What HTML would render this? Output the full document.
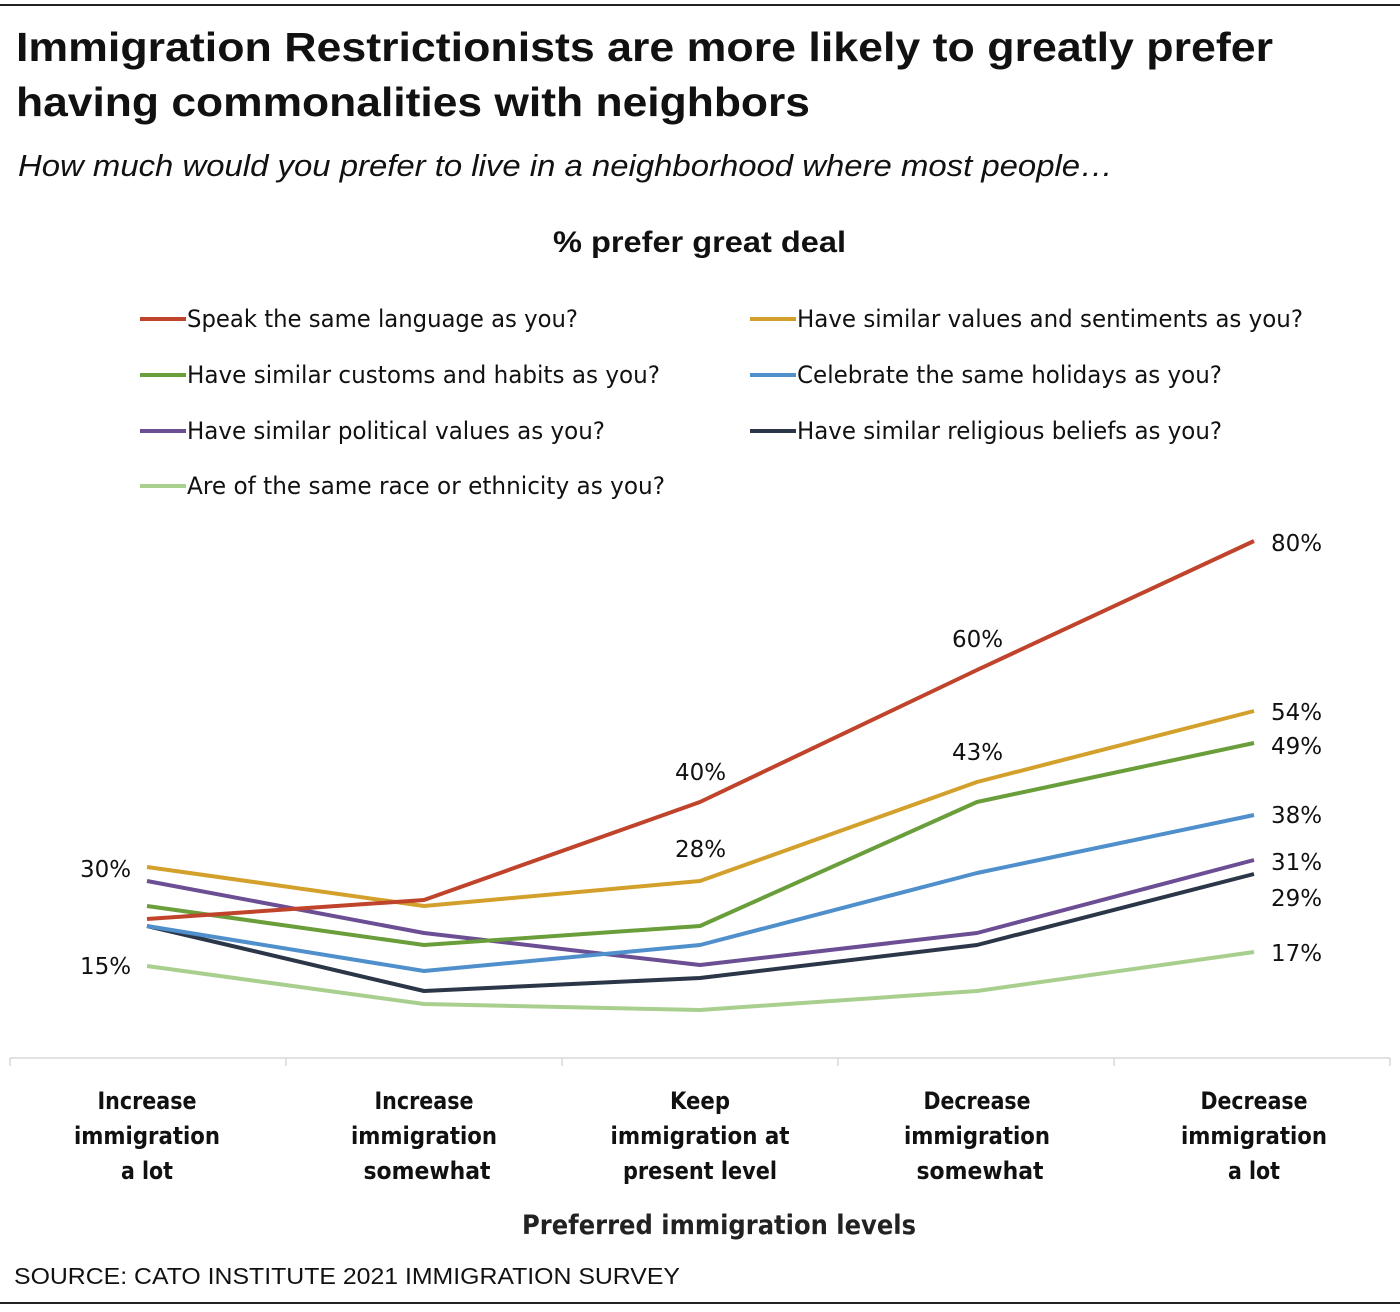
<!DOCTYPE html>
<html><head><meta charset="utf-8"><style>
body{margin:0;background:#fff;}
svg{display:block}
</style></head><body>
<svg width="1400" height="1312" xmlns="http://www.w3.org/2000/svg" font-family="Liberation Sans, sans-serif">
<rect width="1400" height="1312" fill="#fff"/>
<line x1="0" y1="5" x2="1400" y2="5" stroke="#222" stroke-width="2"/>
<line x1="0" y1="1303" x2="1400" y2="1303" stroke="#222" stroke-width="2"/>
<text x="16" y="61" font-size="41" font-weight="bold" fill="#111" textLength="1257" lengthAdjust="spacingAndGlyphs">Immigration Restrictionists are more likely to greatly prefer</text>
<text x="16" y="116" font-size="41" font-weight="bold" fill="#111" textLength="794" lengthAdjust="spacingAndGlyphs">having commonalities with neighbors</text>
<text x="18" y="176" font-size="31" font-style="italic" fill="#111" textLength="1095" lengthAdjust="spacingAndGlyphs">How much would you prefer to live in a neighborhood where most people…</text>
<text x="553" y="252" font-size="30" font-weight="bold" fill="#111" textLength="293" lengthAdjust="spacingAndGlyphs">% prefer great deal</text>
<g font-family="DejaVu Sans, sans-serif" font-size="24" fill="#111" stroke-width="4" lengthAdjust="spacingAndGlyphs">
<line x1="140" y1="319" x2="186" y2="319" stroke="#c0432b"/><text x="187" y="327" textLength="391" lengthAdjust="spacingAndGlyphs">Speak the same language as you?</text>
<line x1="750" y1="319" x2="796" y2="319" stroke="#d4a02c"/><text x="797" y="327" textLength="506" lengthAdjust="spacingAndGlyphs">Have similar values and sentiments as you?</text>
<line x1="140" y1="375" x2="186" y2="375" stroke="#6a9e3a"/><text x="187" y="383" textLength="473" lengthAdjust="spacingAndGlyphs">Have similar customs and habits as you?</text>
<line x1="750" y1="375" x2="796" y2="375" stroke="#4f8fcb"/><text x="797" y="383" textLength="425" lengthAdjust="spacingAndGlyphs">Celebrate the same holidays as you?</text>
<line x1="140" y1="431" x2="186" y2="431" stroke="#6b4e93"/><text x="187" y="439" textLength="418" lengthAdjust="spacingAndGlyphs">Have similar political values as you?</text>
<line x1="750" y1="431" x2="796" y2="431" stroke="#2b3648"/><text x="797" y="439" textLength="425" lengthAdjust="spacingAndGlyphs">Have similar religious beliefs as you?</text>
<line x1="140" y1="486" x2="186" y2="486" stroke="#a9cf8f"/><text x="187" y="494" textLength="478" lengthAdjust="spacingAndGlyphs">Are of the same race or ethnicity as you?</text>
</g>
<line x1="10" y1="1058" x2="1390" y2="1058" stroke="#d9d9d9" stroke-width="1.5"/>
<g stroke="#d9d9d9" stroke-width="1.5"><line x1="10" y1="1058" x2="10" y2="1066"/><line x1="286" y1="1058" x2="286" y2="1066"/><line x1="562" y1="1058" x2="562" y2="1066"/><line x1="838" y1="1058" x2="838" y2="1066"/><line x1="1114" y1="1058" x2="1114" y2="1066"/><line x1="1390" y1="1058" x2="1390" y2="1066"/></g>
<g fill="none" stroke-width="4" stroke-linejoin="round">
<polyline stroke="#a9cf8f" points="147,966 424,1004 700,1010 977,991 1254,952"/>
<polyline stroke="#2b3648" points="147,926 424,991 700,978 977,945 1254,874"/>
<polyline stroke="#6b4e93" points="147,881 424,933 700,965 977,933 1254,860"/>
<polyline stroke="#4f8fcb" points="147,926 424,971 700,945 977,873 1254,815"/>
<polyline stroke="#6a9e3a" points="147,906 424,945 700,926 977,802 1254,743"/>
<polyline stroke="#d4a02c" points="147,867 424,906 700,881 977,782 1254,711"/>
<polyline stroke="#c0432b" points="147,919 424,900 700,802 977,670 1254,541"/>
</g>
<g font-family="DejaVu Sans, sans-serif" font-size="23" fill="#111">
<text x="1271" y="551">80%</text><text x="952" y="647">60%</text>
<text x="675" y="780">40%</text><text x="952" y="760">43%</text>
<text x="675" y="857">28%</text><text x="80" y="877">30%</text><text x="80" y="974">15%</text>
<text x="1271" y="720">54%</text><text x="1271" y="754">49%</text><text x="1271" y="823">38%</text>
<text x="1271" y="870">31%</text><text x="1271" y="906">29%</text><text x="1271" y="961">17%</text>
</g>
<g font-family="DejaVu Sans, sans-serif" font-size="24" font-weight="bold" fill="#111" text-anchor="middle">
<text x="147" y="1109" textLength="99" lengthAdjust="spacingAndGlyphs">Increase</text><text x="147" y="1144" textLength="146" lengthAdjust="spacingAndGlyphs">immigration</text><text x="147" y="1179" textLength="52" lengthAdjust="spacingAndGlyphs">a lot</text>
<text x="424" y="1109" textLength="99" lengthAdjust="spacingAndGlyphs">Increase</text><text x="424" y="1144" textLength="146" lengthAdjust="spacingAndGlyphs">immigration</text><text x="427" y="1179" textLength="127" lengthAdjust="spacingAndGlyphs">somewhat</text>
<text x="700" y="1109" textLength="60" lengthAdjust="spacingAndGlyphs">Keep</text><text x="700" y="1144" textLength="179" lengthAdjust="spacingAndGlyphs">immigration at</text><text x="700" y="1179" textLength="154" lengthAdjust="spacingAndGlyphs">present level</text>
<text x="977" y="1109" textLength="107" lengthAdjust="spacingAndGlyphs">Decrease</text><text x="977" y="1144" textLength="146" lengthAdjust="spacingAndGlyphs">immigration</text><text x="980" y="1179" textLength="127" lengthAdjust="spacingAndGlyphs">somewhat</text>
<text x="1254" y="1109" textLength="107" lengthAdjust="spacingAndGlyphs">Decrease</text><text x="1254" y="1144" textLength="146" lengthAdjust="spacingAndGlyphs">immigration</text><text x="1254" y="1179" textLength="52" lengthAdjust="spacingAndGlyphs">a lot</text>
<text x="719" y="1234" font-size="27" fill="#222" textLength="394" lengthAdjust="spacingAndGlyphs">Preferred immigration levels</text>
</g>
<text x="14" y="1284" font-size="23" fill="#111" textLength="666" lengthAdjust="spacingAndGlyphs">SOURCE: CATO INSTITUTE 2021 IMMIGRATION SURVEY</text>
</svg>
</body></html>
